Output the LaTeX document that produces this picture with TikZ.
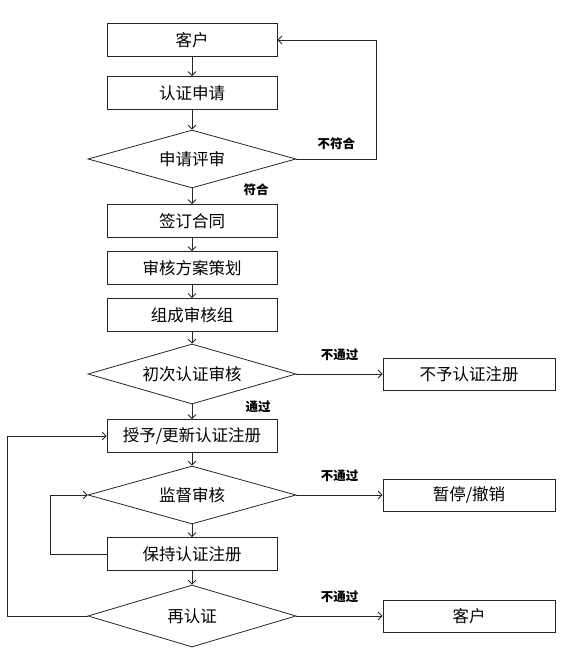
\documentclass[tikz,border=0pt]{standalone}
\usepackage{fontspec}
\setmainfont{Noto Sans CJK SC}
\usepackage{tikz}
\usetikzlibrary{arrows.meta,shapes.geometric}

\begin{document}
\begin{tikzpicture}[x=1pt,y=1pt,
  stepbox/.style={draw=black!85,line width=0.8pt,minimum width=170pt,minimum height=33pt,inner sep=0pt,font=\fontsize{16.5}{18}\selectfont},
  sidebox/.style={stepbox,minimum width=172pt,minimum height=32pt},
  check/.style={draw=black!85,line width=0.8pt,shape=diamond,aspect=3.5,minimum width=208pt,minimum height=59pt,inner sep=0pt,font=\fontsize{16.5}{18}\selectfont},
  tag/.style={font=\fontsize{12.5}{14}\selectfont\bfseries,inner sep=1pt},
  flow/.style={draw=black!85,line width=0.8pt,-{Straight Barb[length=4pt,width=8pt]}}]
  \useasboundingbox (0,0) rectangle (572,-666);

  \node[stepbox] (Client) at (192,-40) {客户};
  \node[stepbox] (Apply) at (192,-93) {认证申请};
  \node[check,minimum height=58pt] (Review) at (192,-159) {申请评审};
  \node[stepbox] (Contract) at (192,-221) {签订合同};
  \node[stepbox] (Plan) at (192,-268) {审核方案策划};
  \node[stepbox] (Team) at (192,-315) {组成审核组};
  \node[check,minimum height=60pt] (FirstAudit) at (192,-374) {初次认证审核};
  \node[sidebox] (Reject) at (469,-374) {不予认证注册};
  \node[stepbox] (Grant) at (192,-436) {授予/更新认证注册};
  \node[check,minimum height=58pt] (Supervise) at (192,-495) {监督审核};
  \node[sidebox] (Suspend) at (469,-495) {暂停/撤销};
  \node[stepbox] (Keep) at (192,-554) {保持认证注册};
  \node[check,minimum height=62pt] (Recert) at (192,-616) {再认证};
  \node[sidebox] (ClientEnd) at (469,-616) {客户};

  \node[tag] (PassA) at (256,-190) {符合};
  \node[tag] (PassB) at (258,-407) {通过};

  \draw[flow] (Client) -- (Apply);
  \draw[flow] (Apply) -- (Review);
  \draw[flow] (Review) -- (Contract);
  \draw[flow] (Contract) -- (Plan);
  \draw[flow] (Plan) -- (Team);
  \draw[flow] (Team) -- (FirstAudit);
  \draw[flow] (FirstAudit) -- (Grant);
  \draw[flow] (Grant) -- (Supervise);
  \draw[flow] (Supervise) -- (Keep);
  \draw[flow] (Keep) -- (Recert);

  \draw[flow] (Review.east) -- node[tag,above=8pt] (FailA) {不符合} ++(80,0) |- (Client.east);
  \draw[flow] (FirstAudit.east) -- node[tag,above=12pt] (FailB) {不通过} (Reject.west);
  \draw[flow] (Supervise.east) -- node[tag,above=12pt] (FailC) {不通过} (Suspend.west);
  \draw[flow] (Recert.east) -- node[tag,above=12pt] (FailD) {不通过} (ClientEnd.west);

  \draw[flow] (Keep.west) -- ++(-56,0) |- (Supervise.west);
  \draw[flow] (Recert.west) -- ++(-80,0) |- (Grant.west);
\end{tikzpicture}
\end{document}
